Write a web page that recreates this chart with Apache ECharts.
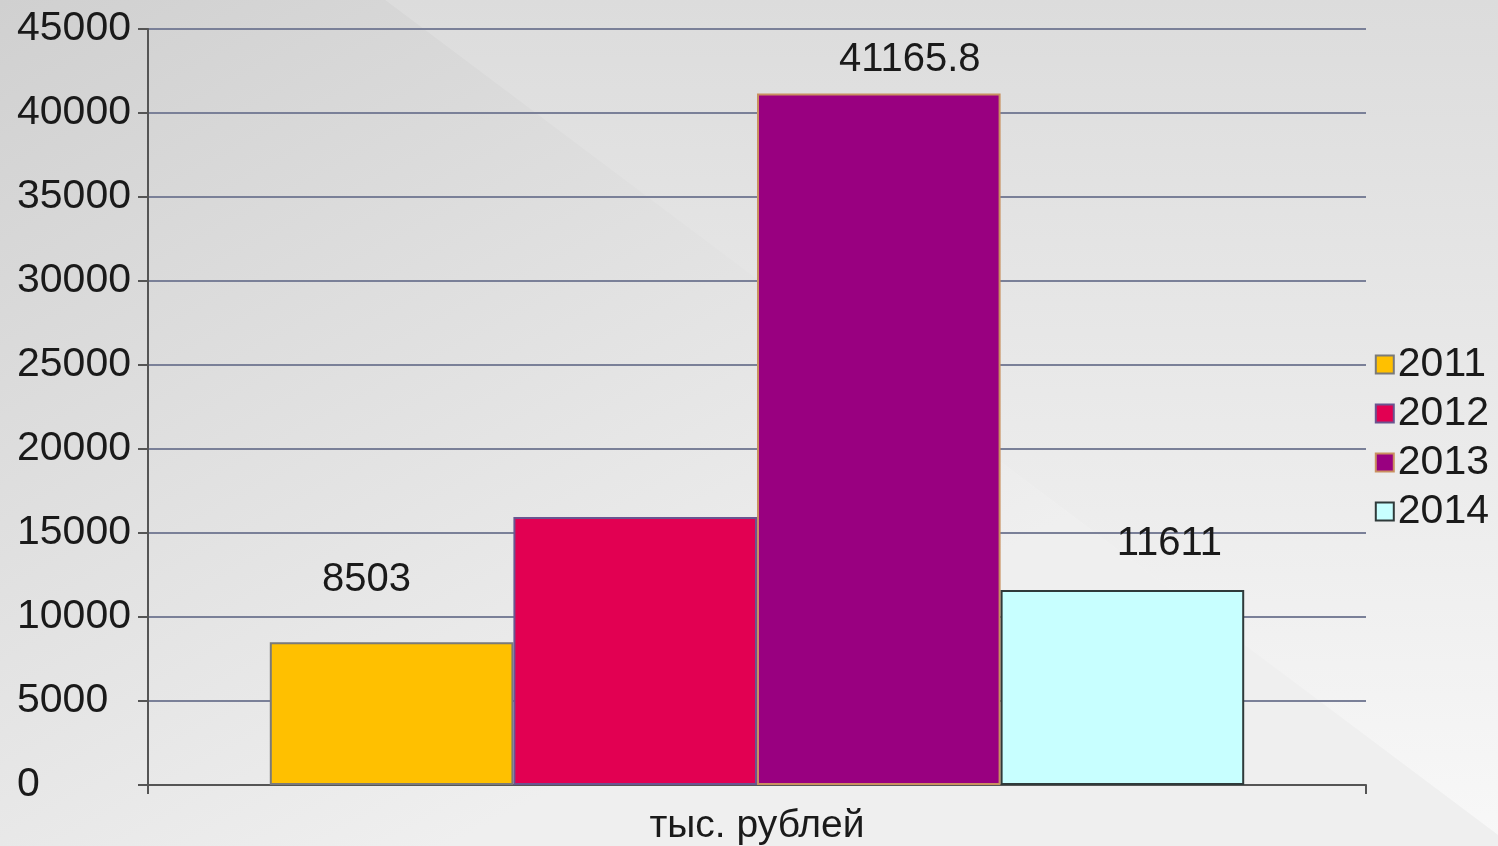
<!DOCTYPE html>
<html>
<head>
<meta charset="utf-8">
<script src="https://cdn.jsdelivr.net/npm/echarts@6/dist/echarts.min.js"></script>
<style>
html,body{margin:0;padding:0;}
#chart{width:1498px;height:846px;}
</style>
</head>
<body>
<div id="chart"></div>
<script>
var categories = ['тыс. рублей'];
var seriesNames = ['2011', '2012', '2013', '2014'];
var values2011 = [8503];
var values2012 = [15950];
var values2013 = [41165.8];
var values2014 = [11611];
var showLabels = [true, false, true, true];
var yTicks = { min: 0, max: 45000, interval: 5000 };

var colors = ['#FFC000', '#E20052', '#990080', '#C8FFFF'];
var borders = ['#7a7a7a', '#6a5590', '#c99060', '#2f3a3a'];
var labelOffsets = [[-25, -42], [0, 0], [31, -13], [47, -26]];
var allValues = [values2011, values2012, values2013, values2014];

var chart = echarts.init(document.getElementById('chart'), null, {renderer: 'canvas'});
var font = 'Liberation Sans, Arial, sans-serif';

var series = seriesNames.map(function (n, i) {
  return {
    name: n,
    type: 'bar',
    data: allValues[i],
    barGap: '0%',
    barCategoryGap: '20%',
    itemStyle: { color: colors[i], borderColor: borders[i], borderWidth: 2 },
    label: {
      show: showLabels[i],
      position: 'top',
      distance: 0,
      offset: labelOffsets[i],
      fontFamily: font,
      fontSize: 40,
      color: '#1a1a1a'
    },
    emphasis: { disabled: true }
  };
});

chart.setOption({
  animation: false,
  textStyle: { fontFamily: font },
  graphic: [
    {
      type: 'rect', z: -10, silent: true,
      shape: { x: 0, y: 0, width: 1498, height: 846 },
      style: {
        fill: new echarts.graphic.LinearGradient(0, 0, 0.4, 1, [
          { offset: 0, color: '#cfcfcf' },
          { offset: 1, color: '#f2f2f2' }
        ])
      }
    },
    {
      type: 'polygon', z: -9, silent: true,
      shape: { points: [[385, 0], [1498, 0], [1498, 846], [1498, 835]] },
      style: {
        fill: new echarts.graphic.LinearGradient(0, 0, 0, 1, [
          { offset: 0, color: '#dcdcdc' },
          { offset: 1, color: '#f8f8f8' }
        ])
      }
    },
    {
      type: 'polygon', z: -9, silent: true,
      shape: { points: [[385, 0], [1498, 835], [1498, 846], [0, 846], [0, 0]] },
      style: {
        fill: new echarts.graphic.LinearGradient(0, 0, 0.3, 1, [
          { offset: 0, color: '#d0d0d0' },
          { offset: 1, color: '#efefef' }
        ])
      }
    }
  ],
  legend: {
    orient: 'vertical',
    right: 4,
    top: 339,
    itemWidth: 18,
    itemHeight: 18,
    itemGap: 8,
    icon: 'rect',
    textStyle: { fontFamily: font, fontSize: 41, color: '#1a1a1a', padding: [0, 0, 0, -1] },
    data: seriesNames
  },
  grid: { left: 148, right: 132, top: 29, bottom: 61, containLabel: false },
  xAxis: {
    type: 'category',
    data: categories,
    axisLine: { show: true, lineStyle: { color: '#555555', width: 2 } },
    axisTick: { show: true, length: 9, lineStyle: { color: '#555555', width: 2 } },
    axisLabel: { fontFamily: font, fontSize: 39, color: '#1a1a1a', margin: 22 }
  },
  yAxis: {
    type: 'value',
    min: yTicks.min,
    max: yTicks.max,
    interval: yTicks.interval,
    axisLine: { show: true, lineStyle: { color: '#555555', width: 2 } },
    axisTick: { show: true, length: 10, lineStyle: { color: '#555555', width: 2 } },
    axisLabel: {
      fontFamily: font, fontSize: 41, color: '#1a1a1a', margin: 131, align: 'left',
      formatter: function (v) { return String(v); }
    },
    splitLine: { show: true, lineStyle: { color: '#7a8098', width: 2 } }
  },
  series: series
});
</script>
</body>
</html>
